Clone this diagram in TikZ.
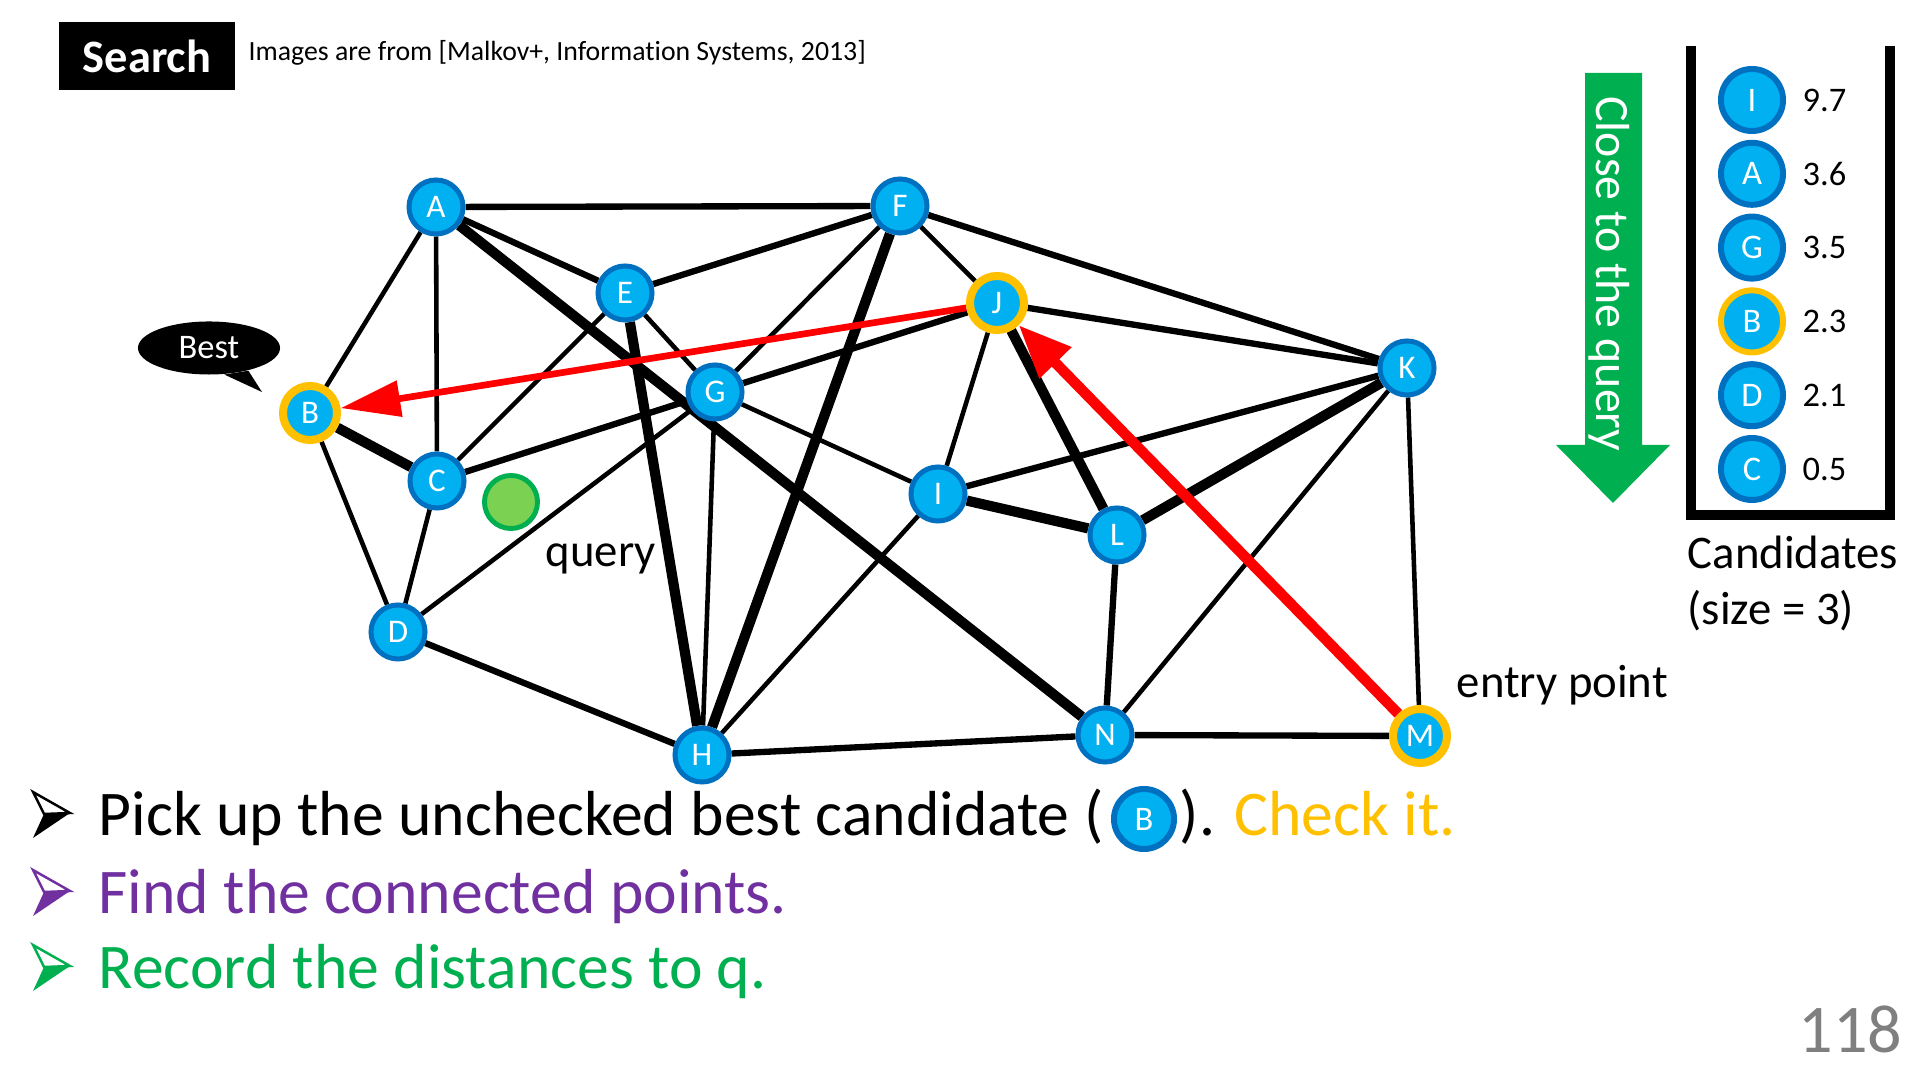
\documentclass[tikz,border=0pt]{standalone}
\usepackage{fontspec}
\setmainfont{Carlito}[Ligatures=NoCommon]
\usetikzlibrary{arrows.meta,positioning,shapes.geometric,backgrounds}

\definecolor{ptcyan}{RGB}{0,176,240}
\definecolor{ptblue}{RGB}{0,112,192}
\definecolor{chkyellow}{RGB}{255,192,0}
\definecolor{qgreen}{RGB}{0,176,80}
\definecolor{qfill}{RGB}{123,209,82}
\definecolor{findpurple}{RGB}{112,48,160}
\definecolor{pagegray}{RGB}{127,127,127}

\tikzset{
	pt/.style={circle, fill=ptcyan, draw=ptblue, line width=1.42pt, minimum size=0.54cm,
		inner sep=0pt, text=white, font=\fontsize{9.4}{10}\selectfont},
	seen/.style={pt, draw=chkyellow, line width=2.28pt},
	cand/.style={pt, minimum size=0.62cm, line width=1.7pt, font=\fontsize{9.8}{10}\selectfont},
	candseen/.style={cand, draw=chkyellow},
	thinedge/.style={line width=1.3pt},
	midedge/.style={line width=1.8pt},
	thickedge/.style={line width=2.9pt},
	hop/.style={draw=red, -{Triangle[length=17pt,width=10pt]}},
	lbl/.style={anchor=base west, inner sep=0pt, font=\fontsize{13.3}{16}\selectfont},
	bigline/.style={anchor=base west, inner sep=0pt, font=\fontsize{18.1}{21}\selectfont}
}

\begin{document}
\begin{tikzpicture}[x=0.01cm, y=-0.01cm]
	\useasboundingbox (0,0) rectangle (1920,1080);

	% title
	\node (title) [fill=black, text=white, font=\bfseries\fontsize{13.2}{15}\selectfont,
		minimum width=1.75cm, minimum height=0.68cm, inner sep=0pt] at (147,56) {Search};
	\node (src) [anchor=west, inner sep=0pt, font=\fontsize{7.9}{9}\selectfont] at (248,53)
		{Images are from [Malkov+, Information Systems, 2013]};

	% graph
	\node (A) [pt] at (436,207) {A};
	\node (B) [seen] at (310,413) {B};
	\node (C) [pt] at (437,481) {C};
	\node (D) [pt] at (398,632) {D};
	\node (E) [pt] at (625,293) {E};
	\node (F) [pt] at (900,206) {F};
	\node (G) [pt] at (715,392) {G};
	\node (H) [pt] at (702,755) {H};
	\node (I) [pt] at (938,494) {I};
	\node (J) [seen] at (997,303) {J};
	\node (K) [pt] at (1407,368) {K};
	\node (L) [pt] at (1117,535) {L};
	\node (M) [seen] at (1420,736) {M};
	\node (N) [pt] at (1105,735) {N};

	\node (q) [circle, fill=qfill, draw=qgreen, line width=1.4pt, minimum size=0.53cm] at (511,502) {};
	\node (qlbl) [lbl] at (545,567) {query};
	\node (entry) [lbl] at (1456,698) {entry point};

	% speech bubble
	\coordinate (tail) at (262,392);
	\node (best) [ellipse, fill=black, text=white, minimum width=1.42cm, minimum height=0.53cm,
		inner sep=0pt, font=\fontsize{9.8}{10}\selectfont] at (209,348) {Best};
	\fill (best.-60) -- (tail) -- (best.-30) -- cycle;

	\begin{scope}[on background layer]
		\fill[white] (0,0) rectangle (1920,1080);
		\foreach \a/\b in {A/B,A/C,E/C,E/G,F/G,F/J,G/I,G/H,D/G,B/D,C/D,H/I,I/J,K/N,K/M}
			\draw[thinedge] (\a) -- (\b);
		\foreach \a/\b in {A/F,A/E,E/F,F/K,C/G,G/J,D/H,H/N,I/K,J/K,L/N,N/M}
			\draw[midedge] (\a) -- (\b);
		\foreach \a/\b in {A/N,E/H,F/H,B/C,I/L,J/L,K/L}
			\draw[thickedge] (\a) -- (\b);
		% search path
		\draw[hop, line width=1.9pt] (J) -- (B);
		\draw[draw=red, line width=3pt, -{Triangle[length=15pt,width=12pt]}] (M) -- (J);
	\end{scope}

	% ordering arrow
	\fill[qgreen] (1585,73) -- (1642,73) -- (1642,445) -- (1670,445) -- (1613,503)
		-- (1556,445) -- (1585,445) -- cycle;
	\node (closer) [rotate=-90, text=white, inner sep=0pt, font=\fontsize{13.6}{16}\selectfont]
		at (1609,274) {Close to the query};

	% candidate list
	\draw[line width=3.1pt] (1691,46) -- (1691,515) -- (1890,515) -- (1890,46);
	\foreach \n/\v/\s [count=\k] in {I/9.7/cand,A/3.6/cand,G/3.5/cand,B/2.3/candseen,D/2.1/cand,C/0.5/cand} {
		\node (c\n) [\s] at (1752,{100+73.8*(\k-1)}) {\n};
		\node (v\n) [anchor=west, inner sep=0pt, font=\fontsize{9.8}{10}\selectfont] at (1802,{100+73.8*(\k-1)}) {\v};
	}
	\node (candlbl) [lbl] at (1687,569) {Candidates};
	\node (candsize) [lbl] at (1687,625) {(size = 3)};

	% steps
	\foreach \y/\c in {836/black,914/findpurple,989/qgreen} {
		\filldraw[draw=\c, fill=white, line width=0.7pt] (33,{\y-44}) -- (70,{\y-23}) -- (44,{\y-22}) -- cycle;
		\fill[\c] (44,{\y-22}) -- (70,{\y-23}) -- (33,{\y+2}) -- cycle;
	}
	\node (pick) [bigline] at (98,836) {Pick up the unchecked best candidate (};
	\node (pickB) [cand, minimum size=0.6cm] at (1144,819) {B};
	\node (pickend) [bigline, right=0.02cm of pickB.east |- pick.base, anchor=base west]
		{). \textcolor{chkyellow}{Check it.}};
	\node (find) [bigline, text=findpurple] at (98,914) {Find the connected points.};
	\node (rec) [bigline, text=qgreen] at (98,989) {Record the distances to q.};

	\node (pageno) [anchor=base east, inner sep=0pt, text=pagegray, font=\fontsize{19.4}{22}\selectfont]
		at (1903,1053) {118};
\end{tikzpicture}
\end{document}
